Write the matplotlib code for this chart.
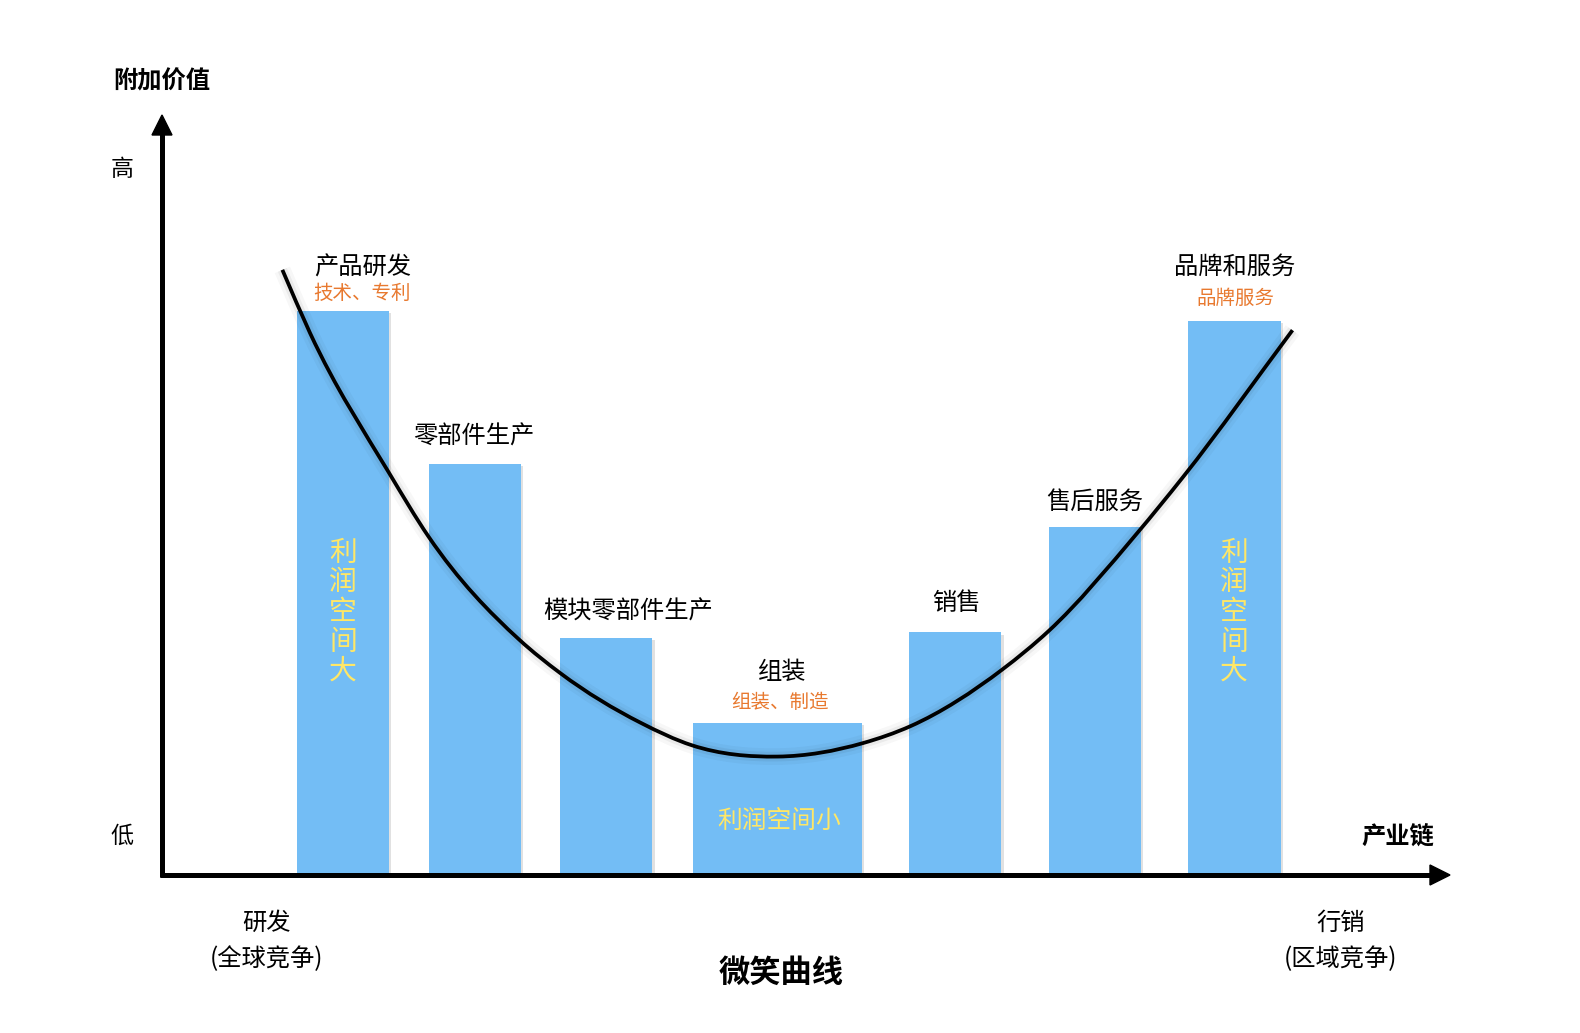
import numpy as np
import matplotlib
matplotlib.use("Agg")
import matplotlib.pyplot as plt
import matplotlib.patheffects as pe
from matplotlib.path import Path
from matplotlib.patches import PathPatch, Polygon

plt.rcParams['font.family'] = ['Noto Sans CJK SC', 'DejaVu Sans']

# --- data ---
stages = ['产品研发', '零部件生产', '模块零部件生产', '组装', '销售', '售后服务', '品牌和服务']
sub_labels = ['技术、专利', '', '', '组装、制造', '', '', '品牌服务']
positions = [1, 2, 3, 4.3, 5.65, 6.71, 7.77]
widths = [0.7, 0.7, 0.7, 1.28, 0.7, 0.7, 0.7]
values = [100, 72.8, 42.1, 26.9, 43.0, 61.7, 98.2]

# smile curve
curve_x = [0.54, 0.75, 1.35, 1.65, 2.34, 2.65, 3.26, 3.65, 4.30, 4.95, 5.31, 6.01, 6.36, 7.03, 7.38, 8.21]
curve_y = [107.3, 96.1, 71.3, 60.0, 41.7, 35.8, 27.0, 23.0, 21.0, 23.4, 26.4, 36.5, 43.3, 60.6, 70.6, 96.6]

W, H = 1580, 1033
BAR = '#73BDF5'
ORANGE = '#E8792F'
YELLOW = '#FFE766'

fig = plt.figure(figsize=(W / 100, H / 100), dpi=100)
fig.patch.set_facecolor('white')

# data axes (bars + curve)
ax = fig.add_axes([0, 0, 1, 1])
ax.set_xlim(-1.604, 10.393)
ax.set_ylim(-28.01, 155.14)
ax.axis('off')

# pixel overlay for axis arrows
ov = fig.add_axes([0, 0, 1, 1], facecolor='none')
ov.set_xlim(0, W)
ov.set_ylim(H, 0)
ov.axis('off')

bars = ax.bar(positions, values, width=widths, color=BAR, zorder=2)
for b in bars:
    b.set_path_effects([pe.SimplePatchShadow(offset=(1.5, -1.5), shadow_rgbFace='#888888', alpha=0.25),
                        pe.Normal()])

# smooth curve through the read points (cubic Hermite in x -> Bezier segments)
cx = np.asarray(curve_x)
cy = np.asarray(curve_y)
h = np.diff(cx)
d = np.diff(cy) / h
m = np.empty_like(cy)
m[0], m[-1] = d[0], d[-1]
m[1:-1] = (h[1:] * d[:-1] + h[:-1] * d[1:]) / (h[:-1] + h[1:])
verts = [(cx[0], cy[0])]
codes = [Path.MOVETO]
for i in range(len(cx) - 1):
    verts += [(cx[i] + h[i] / 3, cy[i] + m[i] * h[i] / 3),
              (cx[i + 1] - h[i] / 3, cy[i + 1] - m[i + 1] * h[i] / 3),
              (cx[i + 1], cy[i + 1])]
    codes += [Path.CURVE4] * 3
curve = PathPatch(Path(verts, codes), fill=False, lw=2.7, edgecolor='black', zorder=4,
                  capstyle='butt')
curve.set_path_effects([pe.Stroke(linewidth=12, foreground='#000000', alpha=0.03),
                        pe.Stroke(linewidth=7, foreground='#000000', alpha=0.05),
                        pe.Normal()])
ax.add_patch(curve)

# axes with arrows
ov.plot([162, 162], [877, 130], color='black', lw=3.6, solid_capstyle='butt', zorder=5)
ov.plot([160, 1435], [875, 875], color='black', lw=3.6, solid_capstyle='butt', zorder=5)
ov.add_patch(Polygon([[152, 135], [172, 135], [162, 115]], closed=True, color='black', zorder=5))
ov.add_patch(Polygon([[1430, 865], [1430, 885], [1450, 875]], closed=True, color='black', zorder=5))


def px(x, y):
    return x / W, 1 - y / H


def label(x, y, s, size=17.5, color='black', weight='normal'):
    fig.text(*px(x, y), s, fontsize=size, color=color, weight=weight,
             ha='center', va='center', zorder=6)


label(162, 81, '附加价值', weight='bold')
label(122, 169, '高', size=16.5)
label(122, 836, '低', size=16.5)
label(1398, 837, '产业链', weight='bold')
label(266, 923, '研发')
label(266, 959, '(全球竞争)')
label(1341, 923, '行销')
label(1341, 959, '(区域竞争)')
label(781, 973, '微笑曲线', size=22.5, weight='bold')

# stage labels
stage_xy = [(363, 268), (474, 437), (628, 612), (782, 672), (956, 603), (1095, 502), (1235, 267)]
sub_xy = [(362, 293), None, None, (780, 703), None, None, (1235, 298)]
for name, sub, xy, sxy in zip(stages, sub_labels, stage_xy, sub_xy):
    label(xy[0], xy[1], name)
    if sub:
        label(sxy[0], sxy[1], sub, size=14, color=ORANGE)

# profit notes inside bars
for vx in (343, 1234):
    for k, ch in enumerate('利润空间大'):
        label(vx, 553 + 29.5 * k, ch, size=20, color=YELLOW)
label(779, 821, '利润空间小', size=17.8, color=YELLOW)

fig.savefig('out.png', dpi=100, facecolor='white')
